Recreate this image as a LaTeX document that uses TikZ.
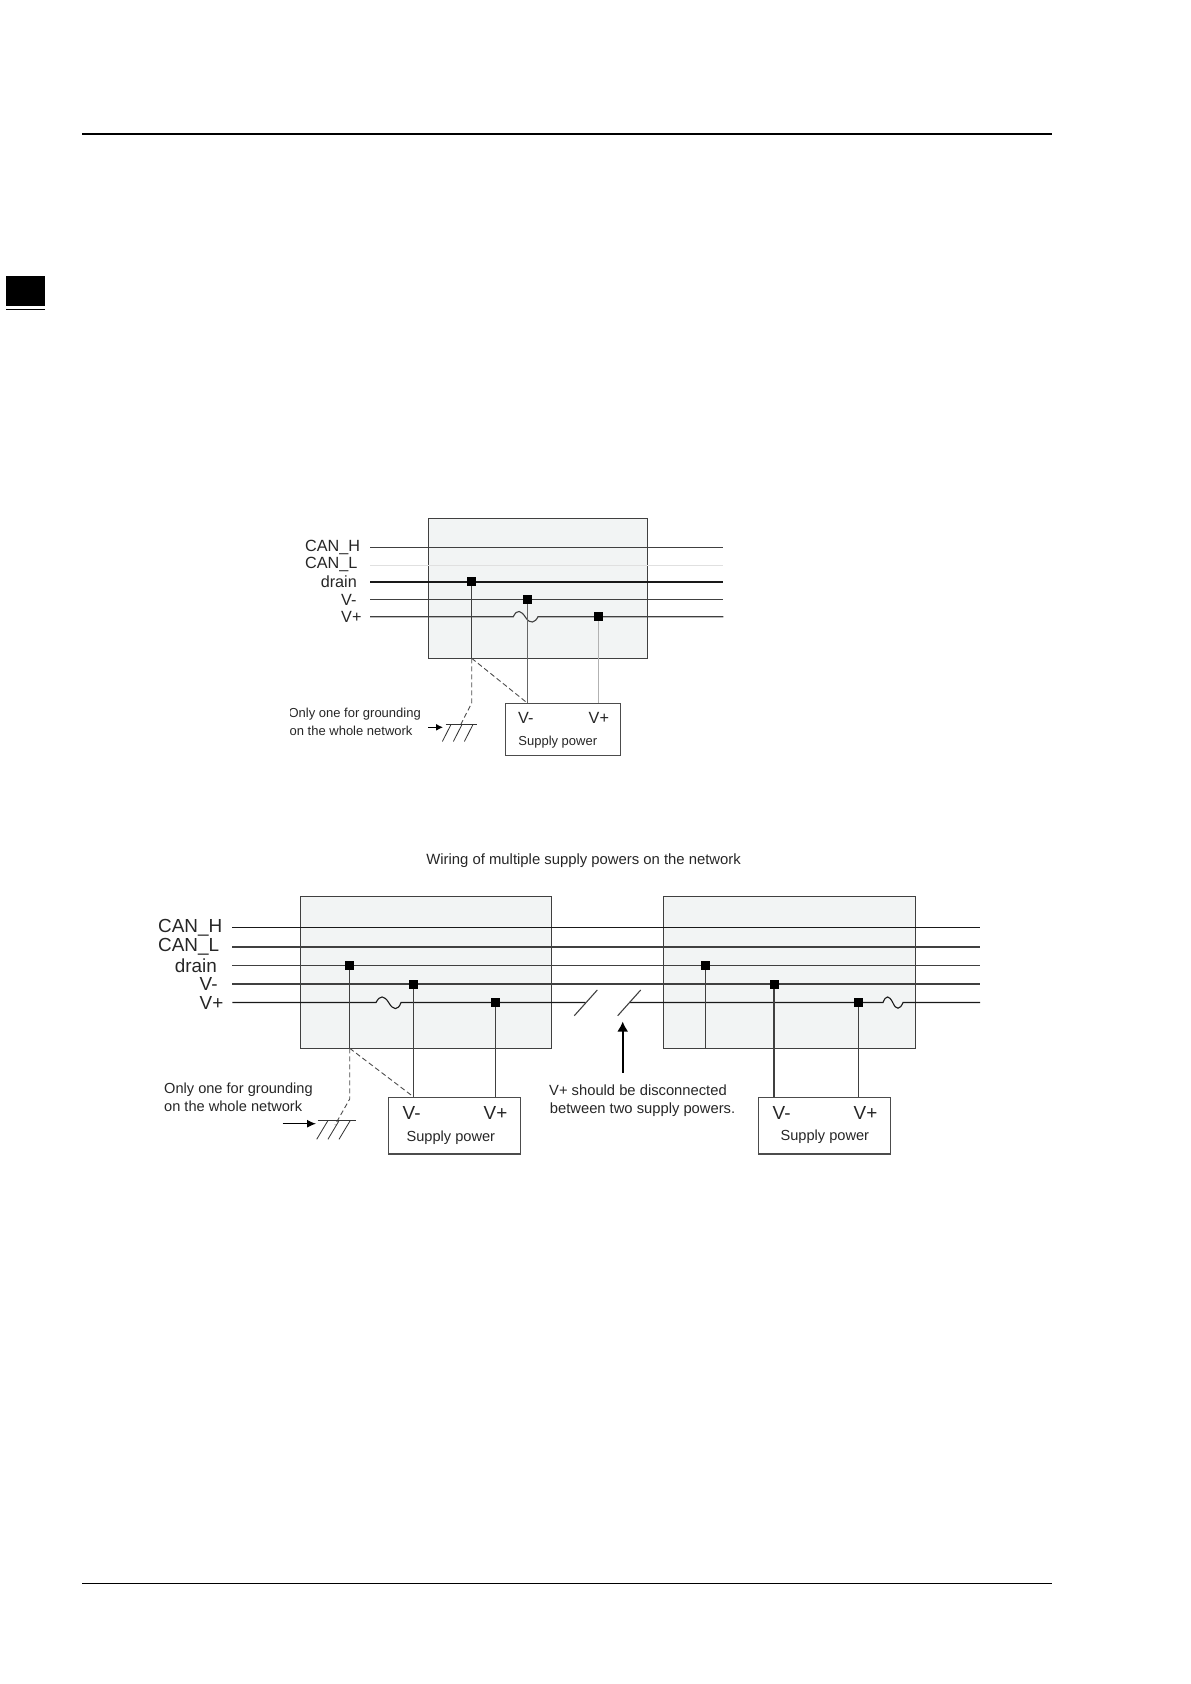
\documentclass[tikz,border=0pt]{standalone}
\usepackage{fontspec}
\setmainfont{Liberation Sans}
\usetikzlibrary{arrows.meta}
\definecolor{boxgray}{HTML}{F2F4F4}
\tikzset{
  wire/.style={line width=1.1pt, black!75},
  tap/.style={draw=none, fill=black, minimum size=8.5pt, inner sep=0pt},
  device/.style={draw=black!75, line width=1pt, fill=boxgray, anchor=north west, inner sep=0pt},
  supply/.style={draw=black!70, line width=1.1pt, fill=white, anchor=north west, inner sep=0pt},
  txt/.style={inner sep=0pt, text=black!85},
  pointer/.style={line width=1.1pt, -{Latex[length=7pt,width=7pt]}},
  earth/.style={line width=0.8pt, black!80},
  gnddash/.style={line width=0.9pt, black!70, dash pattern=on 5pt off 3pt}
}
\begin{document}
\begin{tikzpicture}[x=1pt,y=-1pt]
\useasboundingbox (0,0) rectangle (1191,1684);
% page furniture
\fill[black] (82,133) rectangle (1052,135);
\fill[black] (82,1582.5) rectangle (1052,1583.5);
\fill[black] (6,275.5) rectangle (45,306);
\fill[black] (6,309) rectangle (45,310);

% ---------- single supply
\node[device, minimum width=218.6pt, minimum height=140.3pt] (boxA) at (428.3,518) {};
\node[supply, minimum width=115.2pt, minimum height=51.7pt] (supA) at (504.8,703.3) {};
\coordinate (aHs) at (370,547.7); \coordinate (aHe) at (723.3,547.7);
\coordinate (aLs) at (370,565.3); \coordinate (aLe) at (723.3,565.3);
\coordinate (aDs) at (370,581.5); \coordinate (aDe) at (723.3,581.5);
\coordinate (aMs) at (370,599.5); \coordinate (aMe) at (723.3,599.5);
\coordinate (aPs) at (370,616.7); \coordinate (aPe) at (723.3,616.7);
\draw[wire] (aHs) -- (aHe);
\draw[line width=0.6pt, black!12] (aLs) -- (aLe);
\draw[line width=2pt, black!90] (aDs) -- (aDe);
\draw[wire] (aMs) -- (aMe);
\draw[wire] (aPs) -- (513.3,616.7) .. controls (517,609) and (521,610) .. (526,618)
  .. controls (530,624) and (535,623) .. (538,616.7) -- (aPe);
\node[tap] (aD) at (471.7,581.5) {};
\node[tap] (aM) at (527.7,599.5) {};
\node[tap] (aP) at (598.3,616.7) {};
\coordinate (aG) at (471.7,658.3);
\coordinate (aT) at (471.7,703);
\coordinate (aE) at (460,726);
\draw[wire, line width=1.4pt] (aD) -- (aG);
\draw[wire, line width=0.7pt, black!60] (aM) -- (aM |- supA.north);
\draw[line width=0.7pt, black!30] (aP) -- (aP |- supA.north);
\draw[gnddash] (aG) -- (aT) -- (aE);
\draw[gnddash] (aG) -- (aM |- supA.north);
\draw[earth] (445.7,724.7) -- (476.7,724.7);
\foreach \x in {450.7,461.7,472.7}
  \draw[earth] (\x,725) -- (\x-8.3,741.5);
\coordinate (aAs) at (428,727.3);
\coordinate (aAe) at (443,727.3);
\draw[pointer] (aAs) -- (aAe);
\node[txt, anchor=west, font=\fontsize{16.2}{16}\selectfont] (aCH) at (305,547.5) {CAN\_H};
\node[txt, anchor=west, font=\fontsize{16.2}{16}\selectfont] (aCL) at (305,564.8) {CAN\_L};
\node[txt, anchor=east, font=\fontsize{16.2}{16}\selectfont] (aDL) at (357,582) {drain};
\node[txt, anchor=west, font=\fontsize{16.2}{16}\selectfont] (aML) at (341,599.5) {V-};
\node[txt, anchor=west, font=\fontsize{16.2}{16}\selectfont] (aPL) at (341,617) {V+};
\node[txt, anchor=west, font=\fontsize{16.2}{16}\selectfont] (aSM) at (518,717.7) {V-};
\node[txt, anchor=west, font=\fontsize{16.2}{16}\selectfont] (aSP) at (588.5,717.7) {V+};
\node[txt, anchor=west, font=\fontsize{13}{13}\selectfont] (aSN) at (518.2,742.5) {Supply power};
\begin{scope}
\clip (290,700) rectangle (425,740);
\node[txt, anchor=east, font=\fontsize{13}{13}\selectfont] (aN1) at (421,714.5) {Only one for grounding};
\node[txt, anchor=east, font=\fontsize{13}{13}\selectfont] (aN2) at (412.7,730.5) {on the whole network};
\end{scope}

% ---------- multiple supplies
\node[txt, anchor=west, font=\fontsize{14.85}{15}\selectfont] (title) at (426.2,860.8) {Wiring of multiple supply powers on the network};
\node[device, minimum width=251pt, minimum height=152.3pt] (boxB) at (300,896) {};
\node[device, minimum width=251.6pt, minimum height=152.3pt] (boxC) at (663.3,896) {};
\node[supply, minimum width=132.4pt, minimum height=56.4pt] (supB) at (387.7,1097) {};
\node[supply, minimum width=132.4pt, minimum height=56.4pt] (supC) at (757.7,1097) {};
\coordinate (bHs) at (232.3,927.5); \coordinate (bHe) at (980,927.5);
\coordinate (bLs) at (232.3,947);   \coordinate (bLe) at (980,947);
\coordinate (bDs) at (232.3,965.5); \coordinate (bDe) at (980,965.5);
\coordinate (bMs) at (232.3,984);   \coordinate (bMe) at (980,984);
\coordinate (bPs) at (232.3,1002.5); \coordinate (bPe) at (980,1002.5);
\draw[wire, black!90] (bHs) -- (bHe);
\draw[wire] (bLs) -- (bLe);
\draw[wire, line width=1.3pt] (bDs) -- (bDe);
\draw[wire] (bMs) -- (bMe);
% V+ is cut between the two supplies
\draw[wire, black!90] (bPs) -- (376,1002.5) .. controls (380,995) and (384,995) .. (389,1003)
  .. controls (393,1010) and (398,1011) .. (401,1002.5) -- (585.5,1002.5);
\draw[wire, black!90] (630,1002.5) -- (883,1002.5) .. controls (886,995) and (889,995) .. (893,1003)
  .. controls (896,1010) and (900,1010) .. (903,1002.5) -- (bPe);
\draw[wire] (574.3,1015.7) -- (597.3,990);
\draw[wire] (617.7,1015.7) -- (640.7,990);
\node[tap, minimum size=9pt] (bD) at (349.7,965.5) {};
\node[tap, minimum size=9pt] (bM) at (413.7,984) {};
\node[tap, minimum size=9pt] (bP) at (495.3,1002.5) {};
\node[tap, minimum size=9pt] (cD) at (705.7,965.5) {};
\node[tap, minimum size=9pt] (cM) at (774,984) {};
\node[tap, minimum size=9pt] (cP) at (858.3,1002.5) {};
\coordinate (bG) at (349.7,1048.3);
\coordinate (bT) at (349.7,1099);
\coordinate (bE) at (335,1125);
\coordinate (cG) at (705.7,1048.3);
\draw[wire] (bD) -- (bG);
\draw[wire] (bM) -- (bM |- supB.north);
\draw[wire] (bP) -- (bP |- supB.north);
\draw[wire] (cD) -- (cG);
\draw[wire] (cM) -- (cM |- supC.north);
\draw[wire] (cP) -- (cP |- supC.north);
\draw[gnddash] (bG) -- (bT) -- (bE);
\draw[gnddash] (bG) -- (bM |- supB.north);
\draw[earth] (317.7,1120.7) -- (355.7,1120.7);
\foreach \x in {327.7,338.9,350}
  \draw[earth] (\x,1121) -- (\x-11,1139.3);
\coordinate (bAs) at (282.7,1123.7);
\coordinate (bAe) at (316,1123.7);
\draw[pointer, -{Latex[length=9pt,width=8pt]}] (bAs) -- (bAe);
\coordinate (gapAs) at (622.7,1072.7);
\coordinate (gapAe) at (622.7,1021.5);
\draw[line width=1.8pt, -{Latex[length=10pt,width=11pt]}] (gapAs) -- (gapAe);
\node[txt, anchor=west, font=\fontsize{18.9}{19}\selectfont] (bCH) at (158,927.7) {CAN\_H};
\node[txt, anchor=west, font=\fontsize{18.9}{19}\selectfont] (bCL) at (158,947) {CAN\_L};
\node[txt, anchor=east, font=\fontsize{18.9}{19}\selectfont] (bDL) at (217,965.7) {drain};
\node[txt, anchor=west, font=\fontsize{18.9}{19}\selectfont] (bML) at (199.5,984.3) {V-};
\node[txt, anchor=west, font=\fontsize{18.9}{19}\selectfont] (bPL) at (199.5,1002.7) {V+};
\node[txt, anchor=west, font=\fontsize{18.9}{19}\selectfont] (bSM) at (402.5,1112.7) {V-};
\node[txt, anchor=west, font=\fontsize{18.9}{19}\selectfont] (bSP) at (483.5,1112.7) {V+};
\node[txt, anchor=west, font=\fontsize{18.9}{19}\selectfont] (cSM) at (772.5,1112.7) {V-};
\node[txt, anchor=west, font=\fontsize{18.9}{19}\selectfont] (cSP) at (853.5,1112.7) {V+};
\node[txt, anchor=west, font=\fontsize{14.6}{15}\selectfont] (bSN) at (406.4,1137.8) {Supply power};
\node[txt, anchor=west, font=\fontsize{14.6}{15}\selectfont] (cSN) at (780.4,1136.5) {Supply power};
\node[txt, anchor=west, font=\fontsize{14.6}{15}\selectfont] (bN1) at (164,1089.3) {Only one for grounding};
\node[txt, anchor=west, font=\fontsize{14.6}{15}\selectfont] (bN2) at (164,1106.5) {on the whole network};
\node[txt, anchor=west, font=\fontsize{14.75}{15}\selectfont] (gap1) at (549,1090.5) {V+ should be disconnected};
\node[txt, anchor=west, font=\fontsize{14.75}{15}\selectfont] (gap2) at (549.7,1109.7) {between two supply powers.};
\end{tikzpicture}
\end{document}
